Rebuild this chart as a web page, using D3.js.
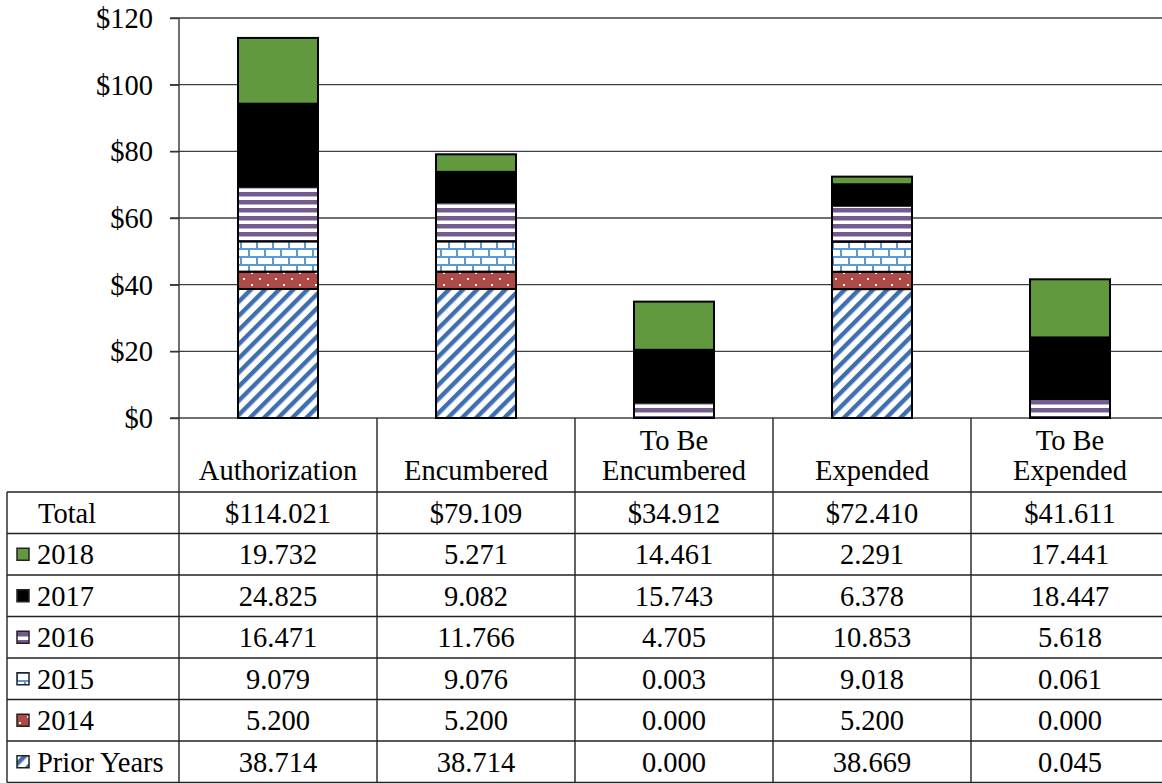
<!DOCTYPE html>
<html><head><meta charset="utf-8">
<script src="https://cdn.jsdelivr.net/npm/d3@7"></script>
<style>html,body{margin:0;padding:0;background:#fff;}svg{display:block;}</style>
</head><body>
<svg id="chart" width="1162" height="783"></svg>
<script>
const categories = ["Authorization","Encumbered","To Be Encumbered","Expended","To Be Expended"];
const categoryLines = [["Authorization"],["Encumbered"],["To Be","Encumbered"],["Expended"],["To Be","Expended"]];
const seriesNames = ["Prior Years","2014","2015","2016","2017","2018"];
const priorYears = [38.714, 38.714, 0.000, 38.669, 0.045];
const y2014 = [5.200, 5.200, 0.000, 5.200, 0.000];
const y2015 = [9.079, 9.076, 0.003, 9.018, 0.061];
const y2016 = [16.471, 11.766, 4.705, 10.853, 5.618];
const y2017 = [24.825, 9.082, 15.743, 6.378, 18.447];
const y2018 = [19.732, 5.271, 14.461, 2.291, 17.441];
const totals = [114.021, 79.109, 34.912, 72.410, 41.611];
const yTicks = [0, 20, 40, 60, 80, 100, 120];

const seriesValues = [priorYears, y2014, y2015, y2016, y2017, y2018];
const tableOrder = ["2018","2017","2016","2015","2014","Prior Years"];

const svg = d3.select("#chart");
const FONT = "Liberation Serif, Times New Roman, serif";
const FS = 28.5;

// patterns
const defs = svg.append("defs");
const pPrior = defs.append("pattern").attr("id","pat-prior").attr("patternUnits","userSpaceOnUse")
  .attr("width",10).attr("height",10).attr("patternTransform","rotate(45)");
pPrior.append("rect").attr("width",10).attr("height",10).attr("fill","#fff");
pPrior.append("rect").attr("x",0).attr("width",4.4).attr("height",10).attr("fill","#3F6FAE");

const p14 = defs.append("pattern").attr("id","pat-2014").attr("patternUnits","userSpaceOnUse")
  .attr("width",16).attr("height",12);
p14.append("rect").attr("width",16).attr("height",12).attr("fill","#B04A47");
p14.append("rect").attr("x",3).attr("y",2).attr("width",2).attr("height",2).attr("fill","#fff");
p14.append("rect").attr("x",11).attr("y",8).attr("width",2).attr("height",2).attr("fill","#fff");

const p15 = defs.append("pattern").attr("id","pat-2015").attr("patternUnits","userSpaceOnUse")
  .attr("width",16).attr("height",16);
p15.append("rect").attr("width",16).attr("height",16).attr("fill","#fff");
p15.append("rect").attr("x",0).attr("y",0).attr("width",16).attr("height",2).attr("fill","#5B9BD5");
p15.append("rect").attr("x",0).attr("y",8).attr("width",16).attr("height",2).attr("fill","#5B9BD5");
p15.append("rect").attr("x",0).attr("y",0).attr("width",2).attr("height",8).attr("fill","#5B9BD5");
p15.append("rect").attr("x",8).attr("y",8).attr("width",2).attr("height",8).attr("fill","#5B9BD5");

const p16 = defs.append("pattern").attr("id","pat-2016").attr("patternUnits","userSpaceOnUse")
  .attr("width",8).attr("height",8);
p16.append("rect").attr("width",8).attr("height",8).attr("fill","#fff");
p16.append("rect").attr("y",0).attr("width",8).attr("height",4.5).attr("fill","#735A8F");

const fills = {
  "Prior Years":"url(#pat-prior)",
  "2014":"url(#pat-2014)",
  "2015":"url(#pat-2015)",
  "2016":"url(#pat-2016)",
  "2017":"#000000",
  "2018":"#62993E"
};

const x = d3.scaleBand().domain(categories).range([179, 1169]).padding(0);
const y = d3.scaleLinear().domain([0,120]).range([418, 18]);
const barW = x.bandwidth() * 0.404;

// gridlines
svg.append("g").selectAll("line").data(yTicks).join("line")
  .attr("x1",170).attr("x2",1162)
  .attr("y1",d=>y(d)).attr("y2",d=>y(d))
  .attr("stroke","#404040").attr("stroke-width",1.4);

// y axis
const yAxis = d3.axisLeft(y).tickValues(yTicks).tickFormat(d=>"$"+d).tickSize(9).tickPadding(17);
const yg = svg.append("g").attr("transform","translate(179,0)").call(yAxis);
yg.select(".domain").remove();
yg.selectAll(".tick line").attr("stroke","#333").attr("stroke-width",1.4);
yg.selectAll(".tick text").attr("font-family",FONT).attr("font-size",FS).attr("fill","#000").attr("dy","0.33em");
svg.append("line").attr("x1",179).attr("x2",179).attr("y1",18).attr("y2",492)
  .attr("stroke","#333").attr("stroke-width",1.4);

// stacked data
const rows = categories.map((c,i)=>{
  const o = {cat:c};
  seriesNames.forEach((s,j)=>o[s]=seriesValues[j][i]);
  return o;
});
const stack = d3.stack().keys(seriesNames)(rows);

const gBars = svg.append("g");
stack.forEach(layer=>{
  gBars.append("g").selectAll("rect").data(layer).join("rect")
    .attr("x",d=>x(d.data.cat)+x.bandwidth()/2-barW/2)
    .attr("width",barW)
    .attr("y",d=>y(d[1]))
    .attr("height",d=>Math.max(0,y(d[0])-y(d[1])))
    .attr("fill",fills[layer.key])
    .attr("stroke",d=> (d[1]-d[0])>0 ? "#000" : "none")
    .attr("stroke-width",2);
});

// table
const tLeft = 7, tRight = 1169, headTop = 418, rowTop = 492, rowH = 41.5;
const tg = svg.append("g");
const lineCol = "#222";
categories.forEach((c,i)=>{
  if(i>0) tg.append("line").attr("x1",x(c)).attr("x2",x(c)).attr("y1",headTop).attr("y2",rowTop+7*rowH)
    .attr("stroke",lineCol).attr("stroke-width",1.4);
});
tg.append("line").attr("x1",x(categories[0])).attr("x2",x(categories[0])).attr("y1",rowTop).attr("y2",rowTop+7*rowH)
  .attr("stroke",lineCol).attr("stroke-width",1.4);
tg.append("line").attr("x1",tLeft).attr("x2",tLeft).attr("y1",rowTop).attr("y2",rowTop+7*rowH)
  .attr("stroke",lineCol).attr("stroke-width",1.4);
d3.range(8).forEach(i=>{
  tg.append("line").attr("x1",tLeft).attr("x2",tRight).attr("y1",rowTop+i*rowH).attr("y2",rowTop+i*rowH)
    .attr("stroke",lineCol).attr("stroke-width",1.4);
});

// header labels
categoryLines.forEach((lines,i)=>{
  const cx = x(categories[i])+x.bandwidth()/2;
  const t = tg.append("text").attr("x",cx).attr("text-anchor","middle")
    .attr("font-family",FONT).attr("font-size",FS);
  lines.forEach((ln,k)=>{
    const baseY = 480 - (lines.length-1-k)*30;
    t.append("tspan").attr("x",cx).attr("y",baseY).text(ln);
  });
});

// total row
const fmt = d3.format(".3f");
tg.append("text").attr("x",38).attr("y",rowTop+rowH/2).attr("dy","0.35em")
  .attr("font-family",FONT).attr("font-size",FS).text("Total");
totals.forEach((v,i)=>{
  tg.append("text").attr("x",x(categories[i])+x.bandwidth()/2).attr("y",rowTop+rowH/2).attr("dy","0.35em")
    .attr("text-anchor","middle").attr("font-family",FONT).attr("font-size",FS).text("$"+fmt(v));
});

// series rows
tableOrder.forEach((s,r)=>{
  const cy = rowTop+(r+1)*rowH+rowH/2;
  tg.append("rect").attr("x",17).attr("y",cy-6).attr("width",12).attr("height",12)
    .attr("fill",fills[s]).attr("stroke","#222").attr("stroke-width",1.5);
  tg.append("text").attr("x",37).attr("y",cy).attr("dy","0.35em")
    .attr("font-family",FONT).attr("font-size",FS).text(s);
  const vals = seriesValues[seriesNames.indexOf(s)];
  vals.forEach((v,i)=>{
    tg.append("text").attr("x",x(categories[i])+x.bandwidth()/2).attr("y",cy).attr("dy","0.35em")
      .attr("text-anchor","middle").attr("font-family",FONT).attr("font-size",FS).text(fmt(v));
  });
});
</script>
</body></html>
